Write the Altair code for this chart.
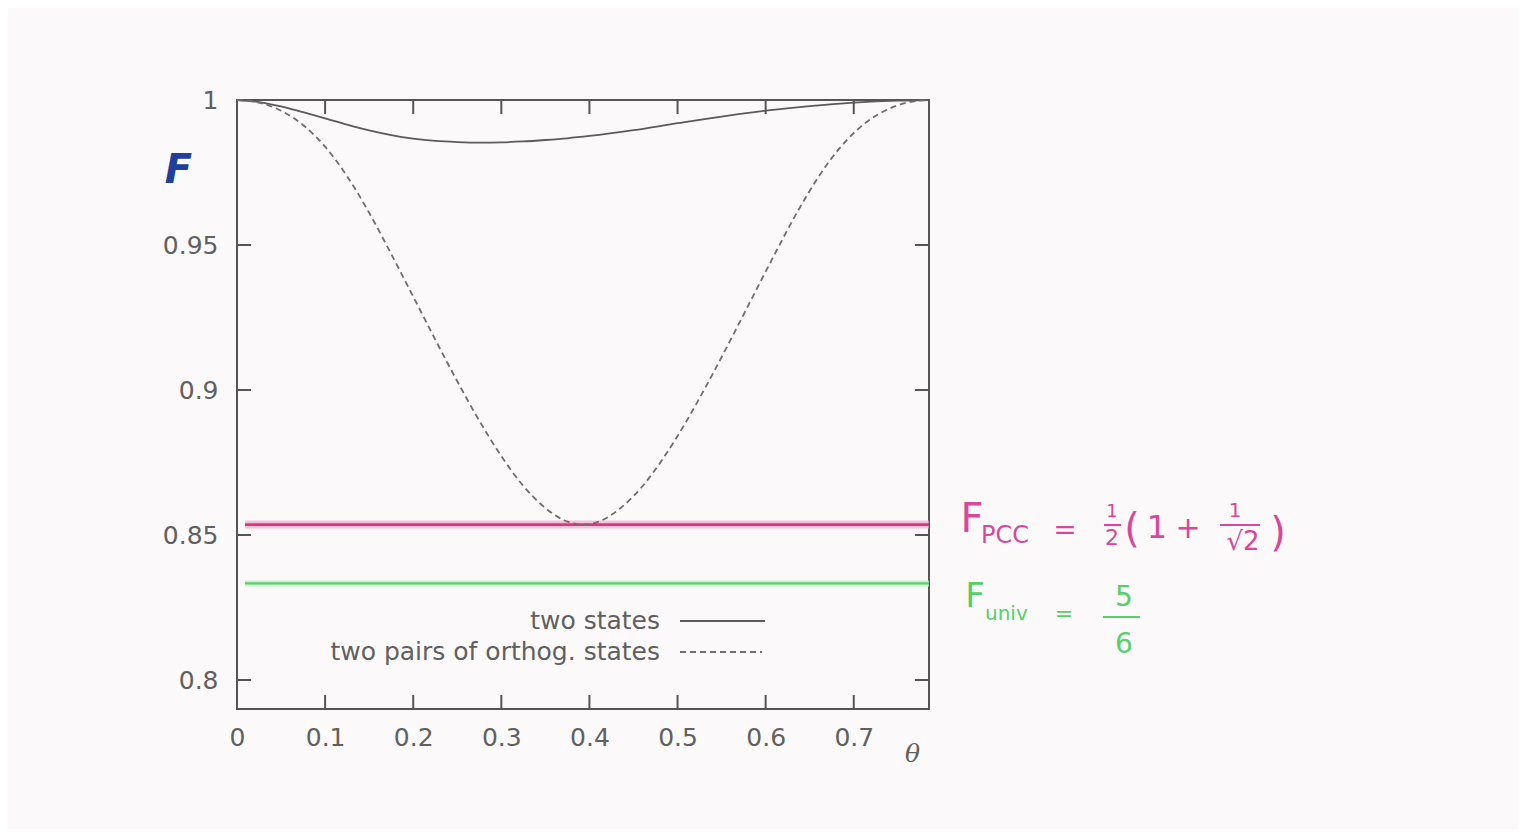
import altair as alt
import pandas as pd

# ---- data ----
theta_solid = [0, 0.025, 0.05, 0.075, 0.1, 0.125, 0.15, 0.175, 0.2, 0.225, 0.25, 0.275,
               0.3, 0.325, 0.35, 0.375, 0.4, 0.45, 0.5, 0.55, 0.6, 0.65, 0.7, 0.75, 0.785]
F_solid = [1.0, 0.9993, 0.9978, 0.9958, 0.9937, 0.9915, 0.9895, 0.9879, 0.9867, 0.9859, 0.9855,
           0.9853, 0.9854, 0.9857, 0.9862, 0.9868, 0.9876, 0.9896, 0.9920, 0.9943, 0.9963,
           0.9979, 0.9991, 0.9998, 1.0]

theta_dash = [0, 0.025, 0.05, 0.075, 0.1, 0.125, 0.15, 0.175, 0.2, 0.225, 0.25, 0.275, 0.3,
              0.325, 0.35, 0.375, 0.3927, 0.4104, 0.4354, 0.4604, 0.4854, 0.5104, 0.5354,
              0.5604, 0.5854, 0.6104, 0.6354, 0.6604, 0.6854, 0.7104, 0.7354, 0.7604, 0.7854]
F_dash = [1.0, 0.9991, 0.9963, 0.9914, 0.9839, 0.9737, 0.9611, 0.9469, 0.9322, 0.9174, 0.9030,
          0.8894, 0.8772, 0.8669, 0.8593, 0.8546, 0.8536, 0.8546, 0.8593, 0.8669, 0.8772,
          0.8894, 0.9030, 0.9174, 0.9322, 0.9469, 0.9611, 0.9737, 0.9839, 0.9914, 0.9963,
          0.9991, 1.0]

F_PCC = [0.8536]
F_UNIV = [0.8333]

x_ticks = [0, 0.1, 0.2, 0.3, 0.4, 0.5, 0.6, 0.7]
y_ticks = [0.8, 0.85, 0.9, 0.95, 1.0]
x_inner_ticks = [0.1, 0.2, 0.3, 0.4, 0.5, 0.6, 0.7]
y_inner_ticks = [0.8, 0.85, 0.9, 0.95]

legend_labels = ["two states", "two pairs of orthog. states"]

W, H = 692, 609
FRAME = "#555555"
LABEL = "#606060"
PINK = "#d9479a"
GREEN = "#55d068"

xs = alt.Scale(domain=[0, 0.7854], nice=False, zero=False)
ys = alt.Scale(domain=[0.79, 1.0], nice=False, zero=False)

solid_df = pd.DataFrame({"theta": theta_solid, "F": F_solid})
dash_df = pd.DataFrame({"theta": theta_dash, "F": F_dash})

x_enc = alt.X("theta:Q", scale=xs,
              axis=alt.Axis(values=x_ticks, format=".1~f", ticks=False, tickSize=0, domain=False,
                            grid=False, labelFlush=False, labelPadding=16, labelFontSize=25,
                            labelColor=LABEL, labelFont="DejaVu Sans", title="θ",
                            titleFont="DejaVu Serif", titleFontStyle="italic",
                            titleFontWeight="normal", titleFontSize=25, titleColor=LABEL,
                            titleX=675, titleY=44, titleAlign="center", titleBaseline="middle"))
y_enc = alt.Y("F:Q", scale=ys,
              axis=alt.Axis(values=y_ticks, format=".2~f", ticks=False, tickSize=0, domain=False,
                            grid=False, labelFlush=False, labelPadding=19, labelFontSize=25,
                            labelColor=LABEL, labelFont="DejaVu Sans", title="F", titleAngle=0,
                            titleX=-59, titleY=70, titleAlign="center", titleBaseline="middle",
                            titleFont="DejaVu Sans", titleFontStyle="italic",
                            titleFontWeight="bold", titleFontSize=40, titleColor="#1f3f9c"))

solid = alt.Chart(solid_df).mark_line(color="#5a5a5a", strokeWidth=1.8,
                                      interpolate="monotone").encode(x=x_enc, y=y_enc)
dashed = alt.Chart(dash_df).mark_line(color="#6e6e6e", strokeWidth=1.8, strokeDash=[6, 4],
                                      interpolate="monotone").encode(x="theta:Q", y="F:Q")

pcc_df = pd.DataFrame({"F": F_PCC})
univ_df = pd.DataFrame({"F": F_UNIV})
pink_halo = alt.Chart(pcc_df).mark_rule(color="#f2a9cf", strokeWidth=8, opacity=0.7).encode(
    y="F:Q", x=alt.value(8), x2=alt.value(W))
pink_core = alt.Chart(pcc_df).mark_rule(color="#d63a7c", strokeWidth=2.8).encode(
    y="F:Q", x=alt.value(8), x2=alt.value(W))
green_halo = alt.Chart(univ_df).mark_rule(color="#bfeec6", strokeWidth=6, opacity=0.8).encode(
    y="F:Q", x=alt.value(8), x2=alt.value(W))
green_core = alt.Chart(univ_df).mark_rule(color="#5ccf6c", strokeWidth=2.2).encode(
    y="F:Q", x=alt.value(8), x2=alt.value(W))

# inward ticks on all four sides (gnuplot style)
xt_df = pd.DataFrame({"theta": x_inner_ticks})
yt_df = pd.DataFrame({"F": y_inner_ticks})
tick_kw = dict(color=FRAME, strokeWidth=2)
t_bottom = alt.Chart(xt_df).mark_rule(**tick_kw).encode(x="theta:Q", y=alt.value(H), y2=alt.value(H - 14))
t_top = alt.Chart(xt_df).mark_rule(**tick_kw).encode(x="theta:Q", y=alt.value(0), y2=alt.value(14))
t_left = alt.Chart(yt_df).mark_rule(**tick_kw).encode(y="F:Q", x=alt.value(0), x2=alt.value(14))
t_right = alt.Chart(yt_df).mark_rule(**tick_kw).encode(y="F:Q", x=alt.value(W), x2=alt.value(W - 14))


def txt(s, x, y, size, color, align="center", font="DejaVu Sans", style="normal", weight="normal"):
    return alt.Chart(pd.DataFrame({"t": [s]})).mark_text(
        align=align, baseline="middle", fontSize=size, color=color, font=font,
        fontStyle=style, fontWeight=weight).encode(text="t:N", x=alt.value(x), y=alt.value(y))


def bar(x1, x2, y, color, width=2.2):
    return alt.Chart(pd.DataFrame({"t": [0]})).mark_rule(color=color, strokeWidth=width).encode(
        x=alt.value(x1), x2=alt.value(x2), y=alt.value(y))


# legend (labels left, samples right)
leg_df1 = pd.DataFrame({"t": [legend_labels[0]]})
leg_df2 = pd.DataFrame({"t": [legend_labels[1]]})
leg_t1 = alt.Chart(leg_df1).mark_text(align="right", baseline="middle", fontSize=25,
                                      color=LABEL, font="DejaVu Sans").encode(
    text="t:N", x=alt.value(423), y=alt.value(521))
leg_t2 = alt.Chart(leg_df2).mark_text(align="right", baseline="middle", fontSize=25,
                                      color=LABEL, font="DejaVu Sans").encode(
    text="t:N", x=alt.value(423), y=alt.value(552))
leg_l1 = alt.Chart(leg_df1).mark_rule(color="#5a5a5a", strokeWidth=1.8).encode(
    x=alt.value(443), x2=alt.value(528), y=alt.value(521))
leg_l2 = alt.Chart(leg_df2).mark_rule(color="#6e6e6e", strokeWidth=1.8, strokeDash=[6, 4]).encode(
    x=alt.value(443), x2=alt.value(525), y=alt.value(552))

# handwritten annotations
ann = [
    txt("F", 735, 420, 40, PINK),
    txt("PCC", 744, 436, 24, PINK, align="left"),
    txt("=", 828, 431, 28, PINK),
    txt("1", 875, 412, 18, PINK),
    bar(867, 884, 425, PINK),
    txt("2", 875, 438, 22, PINK),
    txt("(", 895, 430, 40, PINK),
    txt("1", 920, 428, 32, PINK),
    txt("+", 951, 429, 30, PINK),
    txt("1", 998, 411, 20, PINK),
    bar(983, 1023, 425, PINK),
    txt("√2", 1006, 442, 26, PINK),
    txt(")", 1041, 434, 40, PINK),
    txt("F", 738, 497, 34, GREEN),
    txt("univ", 748, 514, 20, GREEN, align="left"),
    txt("=", 827, 514, 22, GREEN),
    txt("5", 887, 498, 28, GREEN),
    bar(866, 903, 517, GREEN),
    txt("6", 887, 545, 28, GREEN),
]

chart = alt.layer(
    pink_halo, green_halo, pink_core, green_core, solid, dashed,
    t_bottom, t_top, t_left, t_right,
    leg_t1, leg_t2, leg_l1, leg_l2, *ann
).properties(
    width=W, height=H,
    padding={"left": 229, "top": 92, "right": 589, "bottom": 120},
    autosize=alt.AutoSizeParams(type="none"),
    background="#fbf9f9",
).configure_view(stroke=FRAME, strokeWidth=2)

chart.save("out.html", embed_options={"renderer": "svg", "actions": False})
